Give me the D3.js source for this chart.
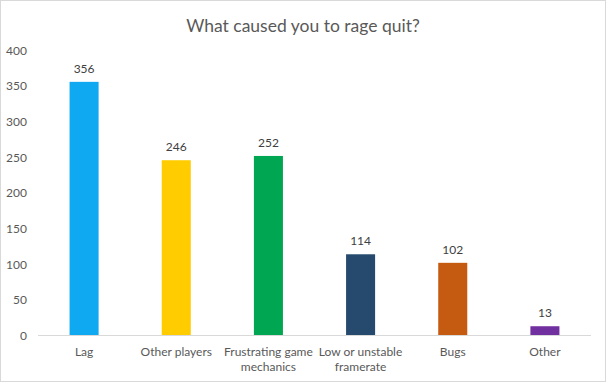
<!DOCTYPE html>
<html>
<head>
<meta charset="utf-8">
<script src="https://cdn.jsdelivr.net/npm/d3@7"></script>
<style>
  body { margin: 0; background: #fff; }
  text { font-family: Lato, "Open Sans", sans-serif; }
</style>
</head>
<body>
<div id="chart"></div>
<script>
// chart data
var categories = ["Lag", "Other players", "Frustrating game mechanics", "Low or unstable framerate", "Bugs", "Other"];
var labelLines = [["Lag"], ["Other players"], ["Frustrating game", "mechanics"], ["Low or unstable", "framerate"], ["Bugs"], ["Other"]];
var counts = [356, 246, 252, 114, 102, 13];
var barColors = ["#0fa9f1", "#ffcc00", "#00a651", "#264a6e", "#c55a11", "#7030a0"];
var yTicks = [0, 50, 100, 150, 200, 250, 300, 350, 400];

var W = 606, H = 382;
var svg = d3.select("#chart").append("svg")
    .attr("width", W)
    .attr("height", H);

// outer border
svg.append("rect")
    .attr("x", 0.5).attr("y", 0.5)
    .attr("width", W - 1).attr("height", H - 1)
    .attr("fill", "#fff")
    .attr("stroke", "#d9d9d9");

// title
svg.append("text")
    .attr("x", 303)
    .attr("y", 32)
    .attr("text-anchor", "middle")
    .attr("fill", "#595959")
    .style("font-size", "17.5px")
    .text("What caused you to rage quit?");

var x = d3.scaleBand()
    .domain(categories)
    .range([38, 591])
    .paddingInner(0.685)
    .paddingOuter(0.3425);

var y = d3.scaleLinear()
    .domain([0, 400])
    .range([335.5, 50.5]);

// y axis labels (no line)
var yAxis = svg.append("g")
    .attr("transform", "translate(27,0)")
    .call(d3.axisLeft(y).tickValues(yTicks).tickSize(0).tickPadding(0));
yAxis.select(".domain").remove();
yAxis.selectAll("text")
    .attr("fill", "#595959")
    .style("font-size", "12px")
    .style("font-family", "Lato, sans-serif");

// bars
svg.append("g")
    .selectAll("rect")
    .data(counts)
    .enter()
    .append("rect")
      .attr("x", function(d, i) { return x(categories[i]); })
      .attr("y", function(d) { return y(d); })
      .attr("width", x.bandwidth())
      .attr("height", function(d) { return y(0) - y(d); })
      .attr("fill", function(d, i) { return barColors[i]; });

// value labels
svg.append("g")
    .selectAll("text")
    .data(counts)
    .enter()
    .append("text")
      .attr("x", function(d, i) { return x(categories[i]) + x.bandwidth() / 2; })
      .attr("y", function(d) { return y(d) - 9; })
      .attr("text-anchor", "middle")
      .attr("fill", "#404040")
      .style("font-size", "12px")
      .text(function(d) { return d; });

// x axis line
svg.append("line")
    .attr("x1", 38).attr("x2", 591)
    .attr("y1", y(0)).attr("y2", y(0))
    .attr("stroke", "#d9d9d9");

// category labels
var cat = svg.append("g")
    .selectAll("text")
    .data(categories)
    .enter()
    .append("text")
      .attr("x", function(d) { return x(d) + x.bandwidth() / 2; })
      .attr("y", 356)
      .attr("text-anchor", "middle")
      .attr("fill", "#595959")
      .style("font-size", "12px");
cat.each(function(d, i) {
    var t = d3.select(this);
    labelLines[i].forEach(function(line, j) {
        t.append("tspan")
            .attr("x", x(d) + x.bandwidth() / 2)
            .attr("dy", j === 0 ? 0 : 15)
            .text(line);
    });
});
</script>
</body>
</html>
